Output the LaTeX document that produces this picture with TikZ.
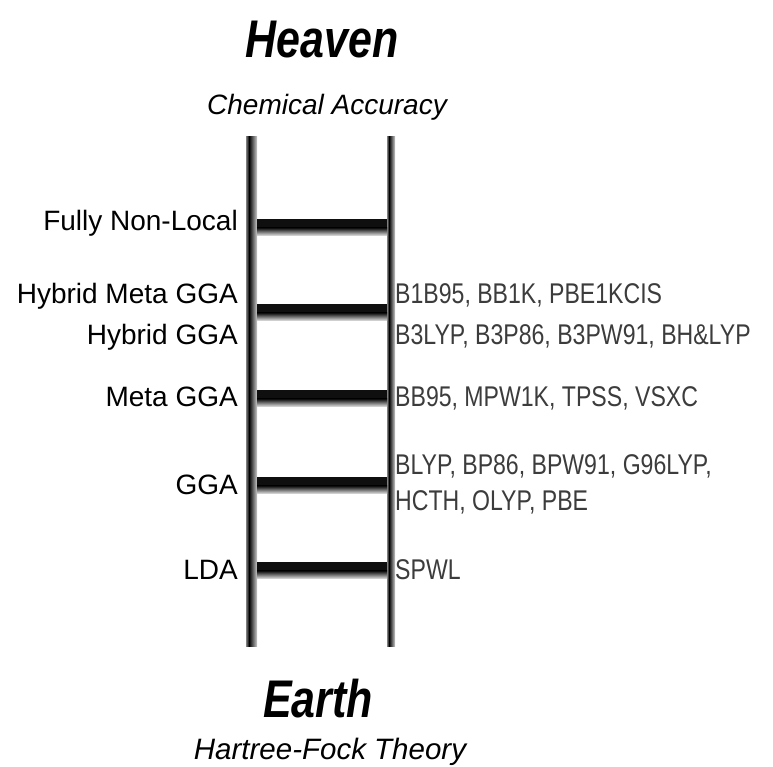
\documentclass[tikz,border=0pt]{standalone}
\usepackage{fontspec}
\setmainfont{Liberation Sans}
\newfontfamily\narrowfont[FakeStretch=0.81]{Liberation Sans}
\newfontfamily\headfont[FakeStretch=0.81]{Liberation Sans}
\definecolor{methgray}{HTML}{3C3C3C}
\begin{document}
\begin{tikzpicture}[x=1pt,y=1pt,
  lvl/.style={anchor=base east, inner sep=0pt, font=\fontsize{28}{30}\selectfont, text=black},
  meth/.style={anchor=base west, inner sep=0pt, font=\narrowfont\fontsize{28.5}{30}\selectfont, text=methgray},
  headtxt/.style={anchor=base, inner sep=0pt, font=\headfont\bfseries\itshape\fontsize{53}{55}\selectfont},
  subtxt/.style={anchor=base, inner sep=0pt, font=\itshape\fontsize{28}{30}\selectfont}]
\useasboundingbox[fill=white] (0,0) rectangle (773,767);
% rails (y' = 767 - y)
\shade[left color=black!50, right color=black] (246,120) rectangle (249,630);
\shade[left color=black, right color=black!20] (249,120) rectangle (257,630);
\shade[left color=black!50, right color=black] (387,120) rectangle (389,630);
\shade[left color=black, right color=black!20] (389,120) rectangle (395,630);
% rungs: tops at y = 219, 304, 390, 477, 562
\foreach \t in {219,304,390,477,562}{
  \pgfmathsetmacro{\ya}{767-\t}
  \pgfmathsetmacro{\yb}{767-\t-9}
  \pgfmathsetmacro{\yc}{767-\t-17}
  \fill[black!94] (257,\yb) rectangle (387,\ya);
  \shade[top color=black!94, bottom color=black!8] (257,\yc) rectangle (387,\yb);
}
% headings
\node[headtxt] (heaven) at (322,709) {Heaven};
\node[subtxt] (chem) at (327,652) {Chemical Accuracy};
\node[headtxt] (earth) at (318,49) {Earth};
\node[subtxt, font=\itshape\fontsize{29.5}{31}\selectfont] (hf) at (330,7) {Hartree-Fock Theory};
% level labels
\node[lvl] (fnl) at (238,536) {Fully Non-Local};
\node[lvl] (hmgga) at (238,463) {Hybrid Meta GGA};
\node[lvl] (hgga) at (238,422) {Hybrid GGA};
\node[lvl] (mgga) at (238,360) {Meta GGA};
\node[lvl] (gga) at (238,272) {GGA};
\node[lvl] (lda) at (238,187) {LDA};
% methods
\node[meth] (m1) at (395,463) {B1B95, BB1K, PBE1KCIS};
\node[meth] (m2) at (395,422) {B3LYP, B3P86, B3PW91, BH\&LYP};
\node[meth] (m3) at (395,360) {BB95, MPW1K, TPSS, VSXC};
\node[meth] (m4) at (395,292) {BLYP, BP86, BPW91, G96LYP,};
\node[meth] (m5) at (395,256) {HCTH, OLYP, PBE};
\node[meth] (m6) at (395,187) {SPWL};
\end{tikzpicture}
\end{document}
